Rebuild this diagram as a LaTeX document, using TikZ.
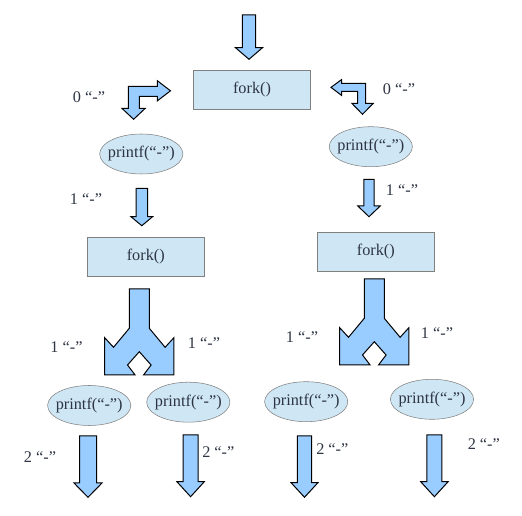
\documentclass[tikz,border=0pt]{standalone}
\usepackage{fontspec}
\setmainfont{Liberation Serif}
\usetikzlibrary{shapes.geometric}
\definecolor{arrblue}{RGB}{153,204,255}
\definecolor{boxblue}{RGB}{207,231,245}
\definecolor{boxline}{RGB}{128,128,128}
\definecolor{inkgray}{RGB}{45,52,66}
% straight block arrow pointing down: x, top, head start, tip, half shaft, half head
\newcommand{\dnarrow}[6]{%
  \draw[blockarr] (#1-#5,#2) -- (#1+#5,#2) -- (#1+#5,#3) -- (#1+#6,#3)
    -- (#1,#4) -- (#1-#6,#3) -- (#1-#5,#3) -- cycle;}
\begin{document}
\begin{tikzpicture}[x=0.75pt,y=-0.75pt,font=\fontsize{12.2}{14}\selectfont,
  forkbox/.style={draw=boxline,fill=boxblue,minimum width=87.8pt,minimum height=29pt,inner sep=0pt,text=inkgray},
  callbub/.style={ellipse,draw=boxline,fill=boxblue,minimum width=62pt,minimum height=30pt,
    inner xsep=-3pt,inner ysep=0pt,text=inkgray},
  lbl/.style={text=inkgray,inner sep=0pt},
  blockarr/.style={draw=black,fill=arrblue,line width=0.75pt,line join=miter},
  splitarr/.pic={\draw[blockarr] (0,0) -- (20,0) -- (20,39.3) -- (35.8,58.3) -- (44.6,48.7)
    -- (44.6,86) -- (14.2,86) -- (21.8,76) -- (10,62.7) -- (-1.8,76) -- (5.8,86)
    -- (-24.6,86) -- (-24.6,48.7) -- (-15.8,58.3) -- (0,39.3) -- cycle;}]
\useasboundingbox (0,0) rectangle (522,516);
% --- first fork ---
\dnarrow{249}{15}{47.7}{59.3}{6.7}{13.5}
\node[forkbox] (fork0) at (252,89.5) {fork()};
\draw[blockarr] (128.3,86.3) -- (157.3,86.3) -- (157.3,80.7) -- (170.5,90.8) -- (157.3,100.9)
  -- (157.3,96.5) -- (139.3,96.5) -- (139.3,108.3) -- (145.3,108.3) -- (133.6,119.3)
  -- (121.9,108.3) -- (128.3,108.3) -- cycle;
\draw[blockarr] (331,87.4) -- (341.7,79.5) -- (341.7,83.5) -- (365.6,83.5) -- (365.6,103.3)
  -- (373.3,103.3) -- (362.5,114.3) -- (351.8,103.3) -- (357.7,103.3) -- (357.7,91.5)
  -- (341.7,91.5) -- (341.7,95.5) -- cycle;
\node[lbl] (lblL0) at (89,96.7) {0 “-”};
\node[lbl] (lblR0) at (399,89) {0 “-”};
\node[callbub] (pfL) at (141.3,154) {printf(“-”)};
\node[callbub] (pfR) at (370.8,146.7) {printf(“-”)};
% --- second level ---
\dnarrow{141.8}{188.3}{216.7}{225.7}{5.8}{10.8}
\dnarrow{369}{179.3}{206}{216.7}{5.2}{11.2}
\node[lbl] (lblL1) at (86,199) {1 “-”};
\node[lbl] (lblR1) at (402,190) {1 “-”};
\node[forkbox] (forkL) at (145.8,256.8) {fork()};
\node[forkbox] (forkR) at (375.8,251.7) {fork()};
\pic at (129.3,289) {splitarr};
\pic at (364.3,279) {splitarr};
\node[lbl] (lblLa) at (66.5,346.7) {1 “-”};
\node[lbl] (lblLb) at (204,343) {1 “-”};
\node[lbl] (lblRa) at (302,336.7) {1 “-”};
\node[lbl] (lblRb) at (437,333) {1 “-”};
% --- leaves ---
\node[callbub] (pf1) at (89.2,405.5) {printf(“-”)};
\node[callbub] (pf2) at (188.3,402.2) {printf(“-”)};
\node[callbub] (pf3) at (306.2,401.7) {printf(“-”)};
\node[callbub] (pf4) at (432,399.3) {printf(“-”)};
\dnarrow{88}{436}{483}{497.3}{8.5}{14}
\dnarrow{190.6}{435}{481.7}{496.7}{7.5}{13.7}
\dnarrow{304.5}{436}{482.7}{497.3}{7.2}{13.4}
\dnarrow{434.4}{435}{481.7}{496.7}{7.5}{13.7}
\node[lbl] (lbl2a) at (40,456.7) {2 “-”};
\node[lbl] (lbl2b) at (218.3,451.7) {2 “-”};
\node[lbl] (lbl2c) at (332.3,449.3) {2 “-”};
\node[lbl] (lbl2d) at (483.8,444.3) {2 “-”};
\end{tikzpicture}
\end{document}
